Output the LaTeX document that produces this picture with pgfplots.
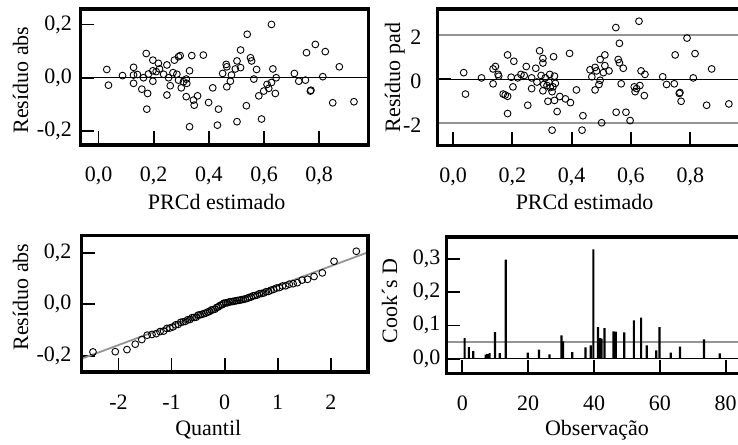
\documentclass[border=0pt]{standalone}
\usepackage{fontspec}
\setmainfont{Liberation Serif}
\usepackage{pgfplots}
\pgfplotsset{compat=1.18}
\definecolor{lgray}{gray}{0.58}
\pgfplotsset{
  resid/.style={
    scale only axis,
    anchor=south west,
    axis line style={line width=3.2bp},
    tick align=inside,
    tick pos=left,
    major tick length=14bp,
    major tick style={black, line width=1.7bp},
    minor tick num=0,
    scaled ticks=false,
    yticklabel style={anchor=east},
    xticklabel style={anchor=base},
  },
  pts/.style={only marks, mark=o, black, mark size=3.4bp, mark options={line width=0.9bp}},
}
\begin{document}
\fontsize{22bp}{26bp}\selectfont
\begin{tikzpicture}
\path[use as bounding box] (0bp,0bp) rectangle (738bp,445bp);
\clip (0bp,0bp) rectangle (738bp,445bp);

% ---------- Panel 1 ----------
\begin{axis}[resid, name=p1, at={(80.3bp,300bp)}, width=288bp, height=136bp,
  xmin=-0.066, xmax=0.978, ymin=-0.2525, ymax=0.258,
  xtick={0,0.2,0.4,0.6,0.8}, xticklabels={{0,0},{0,2},{0,4},{0,6},{0,8}},
  ytick={-0.2,0,0.2}, yticklabels={{-0,2},{0,0},{0,2}},
  yticklabel style={xshift=-1bp}, xticklabel style={yshift=-37bp}]
\addplot[black, line width=0.9bp] coordinates {(-1,0) (2,0)};
\addplot[pts] table {
0.030 0.031
0.036 -0.028
0.087 0.008
0.127 0.039
0.127 0.010
0.127 -0.021
0.141 0.012
0.157 -0.043
0.163 0.000
0.173 0.091
0.178 -0.059
0.175 -0.118
0.181 0.014
0.197 0.066
0.197 0.026
0.197 -0.013
0.209 0.023
0.217 0.054
0.221 0.033
0.236 0.013
0.248 0.048
0.248 -0.065
0.254 0.000
0.260 -0.030
0.270 0.019
0.275 0.066
0.284 0.013
0.290 0.079
0.296 0.083
0.290 -0.009
0.300 -0.038
0.308 -0.015
0.318 -0.005
0.320 -0.021
0.330 0.026
0.338 0.083
0.318 -0.071
0.330 -0.184
0.344 -0.084
0.359 -0.068
0.347 -0.103
0.380 0.085
0.399 -0.093
0.414 -0.038
0.435 -0.118
0.431 -0.178
0.450 0.016
0.463 0.050
0.465 -0.034
0.465 0.041
0.478 -0.013
0.482 0.010
0.496 0.033
0.502 0.063
0.515 0.104
0.515 0.038
0.539 0.163
0.551 0.075
0.555 0.063
0.563 -0.005
0.573 0.031
0.581 -0.068
0.536 -0.105
0.502 -0.165
0.591 -0.155
0.599 -0.050
0.611 -0.025
0.617 -0.040
0.627 0.200
0.627 -0.018
0.632 0.033
0.644 0.000
0.641 -0.059
0.710 0.016
0.726 -0.013
0.750 -0.009
0.754 0.094
0.768 -0.050
0.770 -0.047
0.786 0.125
0.813 0.004
0.822 0.098
0.849 -0.094
0.873 0.041
0.926 -0.090
};
\end{axis}

% ---------- Panel 2 ----------
\begin{axis}[resid, name=p2, at={(437.3bp,299.3bp)}, width=304.3bp, height=136.7bp,
  xmin=-0.053, xmax=0.973, ymin=-3.05, ymax=3.2,
  xtick={0,0.2,0.4,0.6,0.8}, xticklabels={{0,0},{0,2},{0,4},{0,6},{0,8}},
  ytick={-2,0,2}, yticklabels={-2,0,2},
  yticklabel style={xshift=-8.4bp, yshift=-2bp}, xticklabel style={yshift=-37bp}]
\addplot[lgray, line width=1.8bp] coordinates {(-1,2) (2,2)};
\addplot[lgray, line width=1.8bp] coordinates {(-1,-2) (2,-2)};
\addplot[black, line width=0.9bp] coordinates {(-1,0) (2,0)};
\addplot[pts] table {
0.036 0.29
0.042 -0.69
0.096 0.05
0.135 -0.22
0.135 0.46
0.143 0.57
0.152 0.21
0.154 0.13
0.169 -0.69
0.176 -0.73
0.184 -0.79
0.184 1.10
0.184 -1.58
0.196 0.08
0.202 -0.36
0.205 0.81
0.218 0.05
0.229 0.21
0.240 0.16
0.247 0.57
0.252 -1.20
0.265 0.05
0.265 -0.44
0.279 0.49
0.283 -0.14
0.292 1.29
0.297 0.16
0.303 0.94
0.303 0.73
0.306 -0.25
0.311 0.05
0.317 -0.30
0.323 -0.14
0.326 0.21
0.328 -0.39
0.337 -0.36
0.339 1.02
0.342 0.13
0.345 -0.20
0.320 -1.02
0.303 -0.54
0.334 -0.58
0.342 -0.98
0.351 -1.49
0.360 -0.80
0.379 -0.91
0.393 1.17
0.396 -1.08
0.416 -0.50
0.334 -2.34
0.435 -2.34
0.438 -1.68
0.462 0.42
0.468 0.10
0.479 0.53
0.479 -0.50
0.484 0.37
0.492 -0.25
0.496 0.89
0.496 -0.06
0.501 -2.00
0.507 0.29
0.512 0.61
0.512 1.10
0.526 0.37
0.550 -1.52
0.549 2.35
0.561 1.63
0.557 0.89
0.561 0.74
0.567 -0.22
0.574 0.49
0.583 -1.52
0.597 -1.90
0.611 -0.36
0.614 -0.58
0.619 -0.44
0.627 2.64
0.630 -0.30
0.634 0.37
0.645 -0.76
0.647 0.21
0.707 0.10
0.720 -0.25
0.746 -0.22
0.749 1.10
0.763 -0.66
0.765 -0.62
0.769 -1.02
0.789 1.87
0.810 0.05
0.816 1.16
0.855 -1.20
0.872 0.46
0.930 -1.14
};
\end{axis}

% ---------- Panel 3 ----------
\begin{axis}[resid, name=p3, at={(81.3bp,73bp)}, width=286.7bp, height=136.7bp,
  xmin=-2.70, xmax=2.70, ymin=-0.263, ymax=0.268,
  xtick={-2,-1,0,1,2}, xticklabels={-2,-1,0,1,2},
  ytick={-0.2,0,0.2}, yticklabels={{-0,2},{0,0},{0,2}},
  yticklabel style={xshift=-2.4bp}, xticklabel style={yshift=-37bp}]
\addplot[lgray, line width=1.8bp] coordinates {(-3,-0.235) (3,0.225)};
\addplot[pts] table {
-2.48 -0.185
-2.06 -0.184
-1.84 -0.176
-1.684 -0.155
-1.561 -0.137
-1.459 -0.120
-1.369 -0.117
-1.289 -0.114
-1.217 -0.106
-1.150 -0.104
-1.089 -0.094
-1.031 -0.092
-0.976 -0.088
-0.924 -0.080
-0.875 -0.078
-0.828 -0.070
-0.782 -0.068
-0.738 -0.066
-0.695 -0.060
-0.654 -0.059
-0.614 -0.052
-0.574 -0.051
-0.536 -0.050
-0.498 -0.042
-0.461 -0.041
-0.425 -0.039
-0.389 -0.036
-0.353 -0.034
-0.319 -0.030
-0.284 -0.028
-0.250 -0.022
-0.216 -0.021
-0.182 -0.019
-0.149 -0.012
-0.116 -0.010
-0.083 -0.004
-0.050 -0.002
-0.017 0.004
0.017 0.005
0.050 0.006
0.083 0.009
0.116 0.010
0.149 0.011
0.182 0.012
0.216 0.014
0.250 0.015
0.284 0.016
0.319 0.018
0.353 0.019
0.389 0.021
0.425 0.023
0.461 0.027
0.498 0.028
0.536 0.033
0.574 0.034
0.614 0.036
0.654 0.041
0.695 0.042
0.738 0.044
0.782 0.049
0.828 0.050
0.875 0.055
0.924 0.058
0.976 0.063
1.031 0.065
1.089 0.071
1.150 0.072
1.217 0.078
1.289 0.080
1.369 0.084
1.459 0.094
1.561 0.097
1.684 0.108
1.84 0.122
2.06 0.167
2.48 0.206
};
\end{axis}

% ---------- Panel 4 ----------
\begin{axis}[resid, name=p4, at={(446.3bp,71.3bp)}, width=303.7bp, height=136.7bp,
  xmin=-4.86, xmax=87.37, ymin=-0.045, ymax=0.365,
  xtick={0,20,40,60,80}, xticklabels={0,20,40,60,80},
  ytick={0,0.1,0.2,0.3}, yticklabels={{0,0},{0,1},{0,2},{0,3}},
  yticklabel style={xshift=1.6bp}, xticklabel style={yshift=-37bp}]
\addplot[lgray, line width=2.4bp] coordinates {(-10,0.05) (100,0.05)};
\addplot[black, line width=1bp] coordinates {(-10,0) (100,0)};
\addplot[ybar, bar width=2.2bp, fill=black, draw=none] table {
0.7 0.062
2.0 0.035
3.3 0.023
7.1 0.012
7.6 0.014
8.3 0.017
9.9 0.080
11.4 0.017
13.2 0.297
19.9 0.018
23.3 0.027
26.5 0.013
30.1 0.070
30.6 0.052
33.4 0.020
37.4 0.034
39.0 0.040
39.8 0.328
41.2 0.095
41.8 0.062
42.3 0.060
43.2 0.092
45.9 0.082
46.6 0.081
49.2 0.079
52.1 0.115
54.3 0.123
56.0 0.040
58.9 0.025
59.9 0.095
63.3 0.018
66.1 0.036
73.4 0.058
78.2 0.016
};
\end{axis}

% ---------- heavy frames ----------
\foreach \p in {p1,p2,p3,p4}{
  \draw[line width=3.2bp, black] (\p.south west) rectangle (\p.north east);
}

% ---------- labels ----------
\node[anchor=base] at (216.7bp,235bp) {PRCd estimado};
\node[anchor=base] at (584.5bp,235bp) {PRCd estimado};
\node[anchor=base] at (208.3bp,9.7bp) {Quantil};
\node[anchor=base] at (597bp,10bp) {Observação};
\node[rotate=90, anchor=base] at (28bp,365bp) {Resíduo abs};
\node[rotate=90, anchor=base] at (400bp,367.5bp) {Resíduo pad};
\node[rotate=90, anchor=base] at (28bp,148bp) {Resíduo abs};
\node[rotate=90, anchor=base] at (397bp,144bp) {Cook´s D};
\end{tikzpicture}
\end{document}
